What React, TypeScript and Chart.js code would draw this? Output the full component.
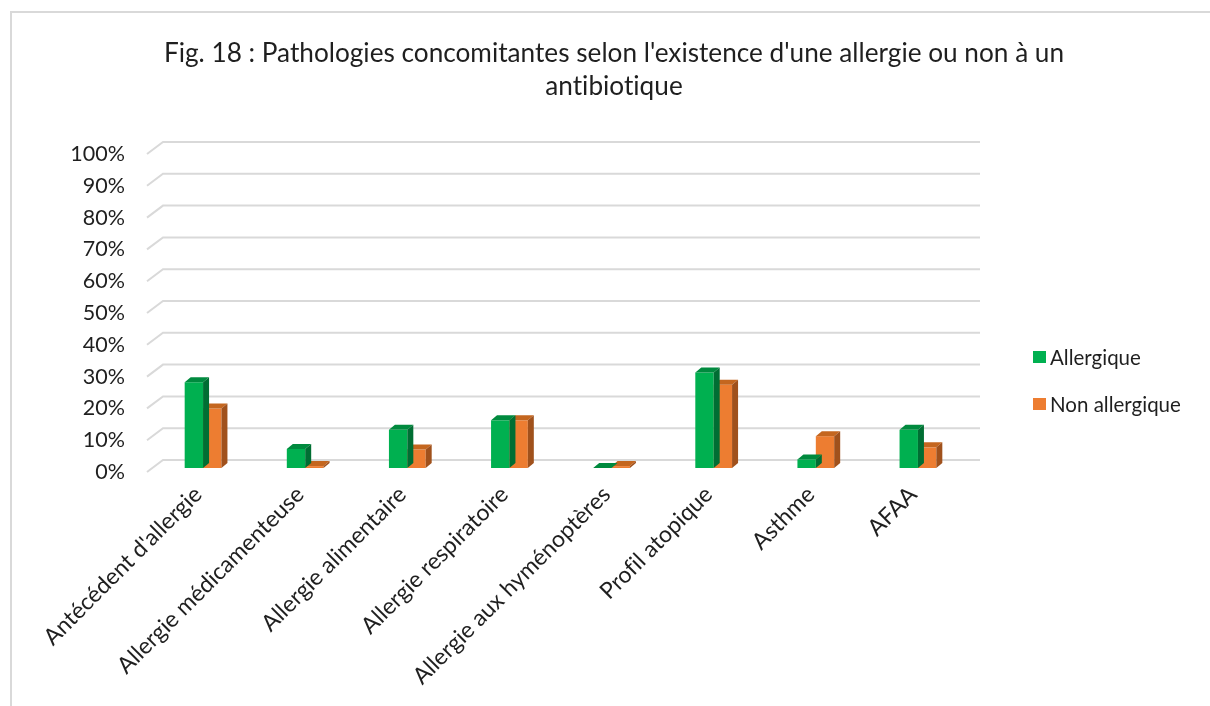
import React, { useEffect, useRef } from "react";
import { Chart, registerables } from "chart.js";

Chart.register(...registerables);

const categories = [
  "Antécédent d'allergie",
  "Allergie médicamenteuse",
  "Allergie alimentaire",
  "Allergie respiratoire",
  "Allergie aux hyménoptères",
  "Profil atopique",
  "Asthme",
  "AFAA",
];
const allergique = [27, 6, 12, 15, 0, 30, 2.7, 12];
const nonAllergique = [18.7, 0.6, 5.8, 15, 0.6, 26.2, 10, 6.5];
const seriesNames = ["Allergique", "Non allergique"];
const yTicks = [0, 10, 20, 30, 40, 50, 60, 70, 80, 90, 100];
const titleLines = [
  "Fig. 18 : Pathologies concomitantes selon l'existence d'une allergie ou non à un",
  "antibiotique",
];

const FRONT = ["#00B050", "#ED7D31"];
const TOP = ["#008A3E", "#C4661F"];
const SIDE = ["#006E33", "#A0511C"];
const FONT = "Lato, 'Open Sans', sans-serif";

const BAR_SHIFT_X = 5;
const BAR_SHIFT_Y = -4;
const DEPTH_X = 6;
const DEPTH_Y = 5;
const WALL_X = 16;
const WALL_Y = 12;

const wallPlugin = {
  id: "wall3d",
  beforeDatasetsDraw(chart: any) {
    const { ctx, chartArea, scales } = chart;
    const y = scales.y;
    ctx.save();
    ctx.strokeStyle = "#D9D9D9";
    ctx.lineWidth = 2;
    for (const v of yTicks) {
      const py = y.getPixelForValue(v);
      ctx.beginPath();
      ctx.moveTo(chartArea.left, py);
      ctx.lineTo(chartArea.left + WALL_X, py - WALL_Y);
      ctx.lineTo(chartArea.right + WALL_X, py - WALL_Y);
      ctx.stroke();
    }
    ctx.restore();
  },
  beforeDatasetDraw(chart: any) {
    chart.ctx.save();
    chart.ctx.translate(BAR_SHIFT_X, BAR_SHIFT_Y);
  },
  afterDatasetDraw(chart: any, args: any) {
    const { ctx } = chart;
    const i = args.index;
    const meta = args.meta;
    for (const bar of meta.data) {
      const p = bar.getProps(["x", "y", "base", "width"], true);
      const l = p.x - p.width / 2;
      const r = p.x + p.width / 2;
      const top = Math.min(p.y, p.base);
      const bottom = Math.max(p.y, p.base);
      ctx.fillStyle = TOP[i];
      ctx.beginPath();
      ctx.moveTo(l, top);
      ctx.lineTo(l + DEPTH_X, top - DEPTH_Y);
      ctx.lineTo(r + DEPTH_X, top - DEPTH_Y);
      ctx.lineTo(r, top);
      ctx.closePath();
      ctx.fill();
      ctx.fillStyle = SIDE[i];
      ctx.beginPath();
      ctx.moveTo(r, top);
      ctx.lineTo(r + DEPTH_X, top - DEPTH_Y);
      ctx.lineTo(r + DEPTH_X, bottom - DEPTH_Y);
      ctx.lineTo(r, bottom);
      ctx.closePath();
      ctx.fill();
    }
    ctx.restore();
  },
};

export default function App() {
  const ref = useRef<HTMLCanvasElement | null>(null);

  useEffect(() => {
    if (!ref.current) return;
    const chart = new Chart(ref.current, {
      type: "bar",
      data: {
        labels: categories,
        datasets: [
          {
            label: seriesNames[0],
            data: allergique,
            backgroundColor: FRONT[0],
            categoryPercentage: 0.36,
            barPercentage: 1,
          },
          {
            label: seriesNames[1],
            data: nonAllergique,
            backgroundColor: FRONT[1],
            categoryPercentage: 0.36,
            barPercentage: 1,
          },
        ],
      },
      options: {
        responsive: false,
        animation: false,
        layout: { padding: { top: 154, right: 246, bottom: 0, left: 0 } },
        plugins: {
          legend: { display: false },
          title: { display: false },
          tooltip: { enabled: false },
        },
        scales: {
          x: {
            grid: { display: false, drawTicks: false },
            border: { display: false },
            ticks: {
              autoSkip: false,
              maxRotation: 45,
              minRotation: 45,
              padding: 9,
              labelOffset: 0,
              color: "#1F1F1F",
              font: { family: FONT, size: 23 },
            },
            afterFit(scale: any) {
              scale.height = 234;
            },
          },
          y: {
            min: 0,
            max: 100,
            grid: { display: false, drawTicks: false },
            border: { display: false },
            ticks: {
              stepSize: 10,
              padding: 22,
              color: "#1F1F1F",
              font: { family: FONT, size: 21.5 },
              callback: (v: any) => v + "%",
            },
            afterFit(scale: any) {
              scale.width = 147;
            },
          },
        },
      },
      plugins: [wallPlugin],
    });
    return () => chart.destroy();
  }, []);

  return (
    <div
      style={{
        position: "fixed",
        left: 0,
        top: 0,
        width: 1210,
        height: 706,
        overflow: "hidden",
        background: "#fff",
        fontFamily: FONT,
        fontVariantLigatures: "none",
      }}
    >
      <div
        style={{
          position: "absolute",
          left: 10,
          top: 11,
          width: 1400,
          height: 900,
          border: "2px solid #D9D9D9",
        }}
      />
      <canvas
        ref={ref}
        width={1210}
        height={706}
        style={{ position: "absolute", left: 0, top: 0, width: 1210, height: 706 }}
      />
      <div
        style={{
          position: "absolute",
          left: 0,
          top: 36,
          width: 1228,
          textAlign: "center",
          fontSize: 26.2,
          lineHeight: "33px",
          color: "#1F1F1F",
        }}
      >
        {titleLines[0]}
        <br />
        {titleLines[1]}
      </div>
      {seriesNames.map((name, i) => (
        <div
          key={name}
          style={{
            position: "absolute",
            left: 1033,
            top: 344 + i * 47,
            height: 26,
            display: "flex",
            alignItems: "center",
            fontSize: 20.5,
            color: "#1F1F1F",
            whiteSpace: "nowrap",
          }}
        >
          <span
            style={{
              display: "inline-block",
              width: 13,
              height: 12,
              background: FRONT[i],
              marginRight: 4,
            }}
          />
          {name}
        </div>
      ))}
    </div>
  );
}
